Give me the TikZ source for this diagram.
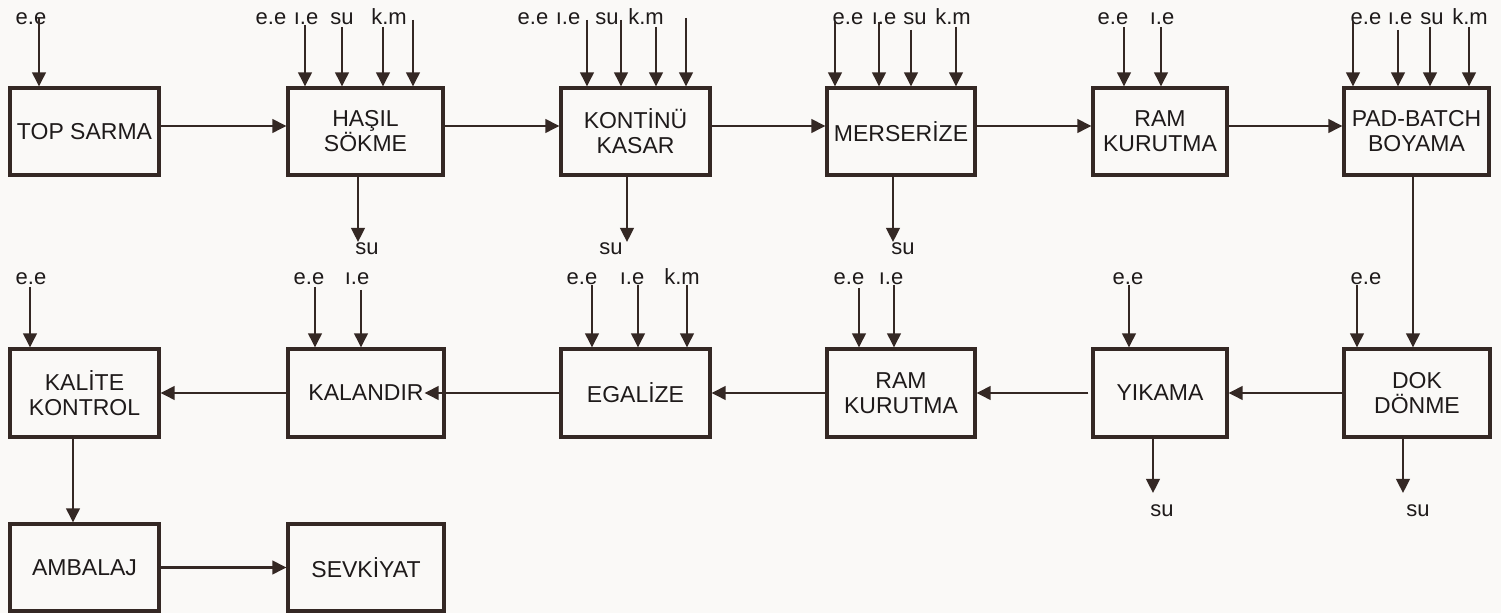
\documentclass[tikz,border=0pt]{standalone}
\usepackage{fontspec}
\setmainfont{Liberation Sans}
\usetikzlibrary{arrows.meta}
\definecolor{ink}{RGB}{52,40,36}
\definecolor{txt}{RGB}{30,26,26}
\definecolor{paper}{RGB}{250,249,247}
\begin{document}
\begin{tikzpicture}[x=0.5pt,y=-0.5pt,
 box/.style={draw=ink, line width=1.6pt, inner sep=0pt, align=center, text=txt,
   font=\fontsize{11.5}{12.5}\selectfont, minimum height=43.5pt},
 lbl/.style={text=txt, font=\fontsize{11}{12}\selectfont, inner sep=0pt, anchor=base},
 arr/.style={draw=ink, line width=1.1pt, -{Triangle[length=7pt,width=6.8pt]}}]
\fill[paper] (0,0) rectangle (1501,613);
\useasboundingbox (0,0) rectangle (1501,613);

% ---------- boxes ----------
\node[box, minimum width=74.5pt] (top)  at (84.5,131.5) {TOP SARMA};
\node[box, minimum width=77.5pt] (has)  at (365.5,131.5) {\raisebox{-1.2pt}{\parbox{70pt}{\centering HAŞIL\\SÖKME}}};
\node[box, minimum width=74.5pt] (kon)  at (635.5,131.5) {\raisebox{-1.2pt}{\parbox{70pt}{\centering KONTİNÜ\\KASAR}}};
\node[box, minimum width=74pt]   (mer)  at (901,131.5) {MERSERİZE};
\node[box, minimum width=67pt]   (ramA) at (1160,131.5) {\raisebox{-1.2pt}{\parbox{64pt}{\centering RAM\\KURUTMA}}};
\node[box, minimum width=72.5pt] (pad)  at (1416.5,131.5) {\raisebox{-1.2pt}{\parbox{70pt}{\centering PAD-BATCH\\BOYAMA}}};

\node[box, minimum width=74.5pt, minimum height=44pt] (kal)  at (84.5,393) {\raisebox{-1.2pt}{\parbox{70pt}{\centering KALİTE\\KONTROL}}};
\node[box, minimum width=78pt,   minimum height=44pt] (kln)  at (366,393) {KALANDIR};
\node[box, minimum width=74.5pt, minimum height=44pt] (ega)  at (635.5,393) {EGALİZE};
\node[box, minimum width=74pt,   minimum height=44pt] (ramB) at (901,393) {\raisebox{-1.2pt}{\parbox{70pt}{\centering RAM\\KURUTMA}}};
\node[box, minimum width=67pt,   minimum height=44pt] (yik)  at (1160,393) {YIKAMA};
\node[box, minimum width=73pt,   minimum height=44pt] (dok)  at (1417,393) {\raisebox{-1.2pt}{\parbox{70pt}{\centering DOK\\DÖNME}}};

\node[box, minimum width=74.5pt] (amb) at (84.5,567.5) {AMBALAJ};
\node[box, minimum width=78pt]   (sev) at (366,567.5) {SEVKİYAT};

% ---------- main flow ----------
\draw[arr] ([yshift=2.75pt]top.east) -- ([yshift=2.75pt]has.west);
\draw[arr] ([yshift=2.75pt]has.east) -- ([yshift=2.75pt]kon.west);
\draw[arr] ([yshift=2.75pt]kon.east) -- ([yshift=2.75pt]mer.west);
\draw[arr] ([yshift=2.75pt]mer.east) -- ([yshift=2.75pt]ramA.west);
\draw[arr] ([yshift=2.75pt]ramA.east) -- ([yshift=2.75pt]pad.west);
\coordinate (pd) at (1413,0);
\draw[arr] (pd |- pad.south) -- (pd |- dok.north);
\draw[arr] (dok.west) -- (yik.east);
\draw[arr] ([xshift=-1.5pt]yik.west) -- (ramB.east);
\draw[arr] (ramB.west) -- (ega.east);
\draw[arr] (ega.west) -- ([xshift=-10.5pt]kln.east);
\draw[arr] (kln.west) -- (kal.east);
\coordinate (ka) at (73,0);
\draw[arr] (ka |- kal.south) -- (ka |- amb.north);
\draw[arr] (amb.east) -- (sev.west);

% ---------- row 1 inputs ----------
\node[lbl] (l1) at (31,25) {e.e};
\coordinate (i1) at (39,18); \draw[arr] (i1) -- (i1 |- top.north);

\node[lbl] (l2a) at (271,25) {e.e};
\node[lbl] (l2b) at (306,25) {ı.e};
\node[lbl] (l2c) at (342,25) {su};
\node[lbl] (l2d) at (389,25) {k.m};
\coordinate (i2a) at (305,25); \draw[arr] (i2a) -- (i2a |- has.north);
\coordinate (i2b) at (342,27); \draw[arr] (i2b) -- (i2b |- has.north);
\coordinate (i2c) at (383,27); \draw[arr] (i2c) -- (i2c |- has.north);
\coordinate (i2d) at (413,20); \draw[arr] (i2d) -- (i2d |- has.north);

\node[lbl] (l3a) at (533,25) {e.e};
\node[lbl] (l3b) at (568,25) {ı.e};
\node[lbl] (l3c) at (607,25) {su};
\node[lbl] (l3d) at (646,25) {k.m};
\coordinate (i3a) at (587,20); \draw[arr] (i3a) -- (i3a |- kon.north);
\coordinate (i3b) at (621,20); \draw[arr] (i3b) -- (i3b |- kon.north);
\coordinate (i3c) at (656,27); \draw[arr] (i3c) -- (i3c |- kon.north);
\coordinate (i3d) at (686,18); \draw[arr] (i3d) -- (i3d |- kon.north);

\node[lbl] (l4a) at (848,25) {e.e};
\node[lbl] (l4b) at (884,25) {ı.e};
\node[lbl] (l4c) at (915,25) {su};
\node[lbl] (l4d) at (953,25) {k.m};
\coordinate (i4a) at (835,22); \draw[arr] (i4a) -- (i4a |- mer.north);
\coordinate (i4b) at (879,22); \draw[arr] (i4b) -- (i4b |- mer.north);
\coordinate (i4c) at (911,30); \draw[arr] (i4c) -- (i4c |- mer.north);
\coordinate (i4d) at (956,27); \draw[arr] (i4d) -- (i4d |- mer.north);

\node[lbl] (l5a) at (1113,25) {e.e};
\node[lbl] (l5b) at (1162,25) {ı.e};
\coordinate (i5a) at (1124,27); \draw[arr] (i5a) -- (i5a |- ramA.north);
\coordinate (i5b) at (1161,27); \draw[arr] (i5b) -- (i5b |- ramA.north);

\node[lbl] (l6a) at (1366,25) {e.e};
\node[lbl] (l6b) at (1400,25) {ı.e};
\node[lbl] (l6c) at (1432,25) {su};
\node[lbl] (l6d) at (1470,25) {k.m};
\coordinate (i6a) at (1353,22); \draw[arr] (i6a) -- (i6a |- pad.north);
\coordinate (i6b) at (1398,30); \draw[arr] (i6b) -- (i6b |- pad.north);
\coordinate (i6c) at (1430,27); \draw[arr] (i6c) -- (i6c |- pad.north);
\coordinate (i6d) at (1469,27); \draw[arr] (i6d) -- (i6d |- pad.north);

% ---------- row 1 outputs ----------
\coordinate (o2) at (358,242); \draw[arr] (o2 |- has.south) -- (o2);
\node[lbl] (s2) at (367,255) {su};
\coordinate (o3) at (627,242); \draw[arr] (o3 |- kon.south) -- (o3);
\node[lbl] (s3) at (611,255) {su};
\coordinate (o4) at (893,242); \draw[arr] (o4 |- mer.south) -- (o4);
\node[lbl] (s4) at (903,255) {su};

% ---------- row 2 inputs ----------
\node[lbl] (m1) at (31,285) {e.e};
\coordinate (j1) at (30,287); \draw[arr] (j1) -- (j1 |- kal.north);

\node[lbl] (m2a) at (309,285) {e.e};
\node[lbl] (m2b) at (357,285) {ı.e};
\coordinate (j2a) at (315,287); \draw[arr] (j2a) -- (j2a |- kln.north);
\coordinate (j2b) at (361,290); \draw[arr] (j2b) -- (j2b |- kln.north);

\node[lbl] (m3a) at (582,285) {e.e};
\node[lbl] (m3b) at (632,285) {ı.e};
\node[lbl] (m3c) at (682,285) {k.m};
\coordinate (j3a) at (592,285); \draw[arr] (j3a) -- (j3a |- ega.north);
\coordinate (j3b) at (638,285); \draw[arr] (j3b) -- (j3b |- ega.north);
\coordinate (j3c) at (687,285); \draw[arr] (j3c) -- (j3c |- ega.north);

\node[lbl] (m4a) at (849,285) {e.e};
\node[lbl] (m4b) at (891,285) {ı.e};
\coordinate (j4a) at (859,288); \draw[arr] (j4a) -- (j4a |- ramB.north);
\coordinate (j4b) at (894,285); \draw[arr] (j4b) -- (j4b |- ramB.north);

\node[lbl] (m5) at (1128,285) {e.e};
\coordinate (j5) at (1129,285); \draw[arr] (j5) -- (j5 |- yik.north);

\node[lbl] (m6) at (1366,285) {e.e};
\coordinate (j6) at (1357,285); \draw[arr] (j6) -- (j6 |- dok.north);

% ---------- row 2 outputs ----------
\coordinate (p5) at (1153,493); \draw[arr] (p5 |- yik.south) -- (p5);
\node[lbl] (t5) at (1162,517) {su};
\coordinate (p6) at (1403,493); \draw[arr] (p6 |- dok.south) -- (p6);
\node[lbl] (t6) at (1418,517) {su};
\end{tikzpicture}
\end{document}
